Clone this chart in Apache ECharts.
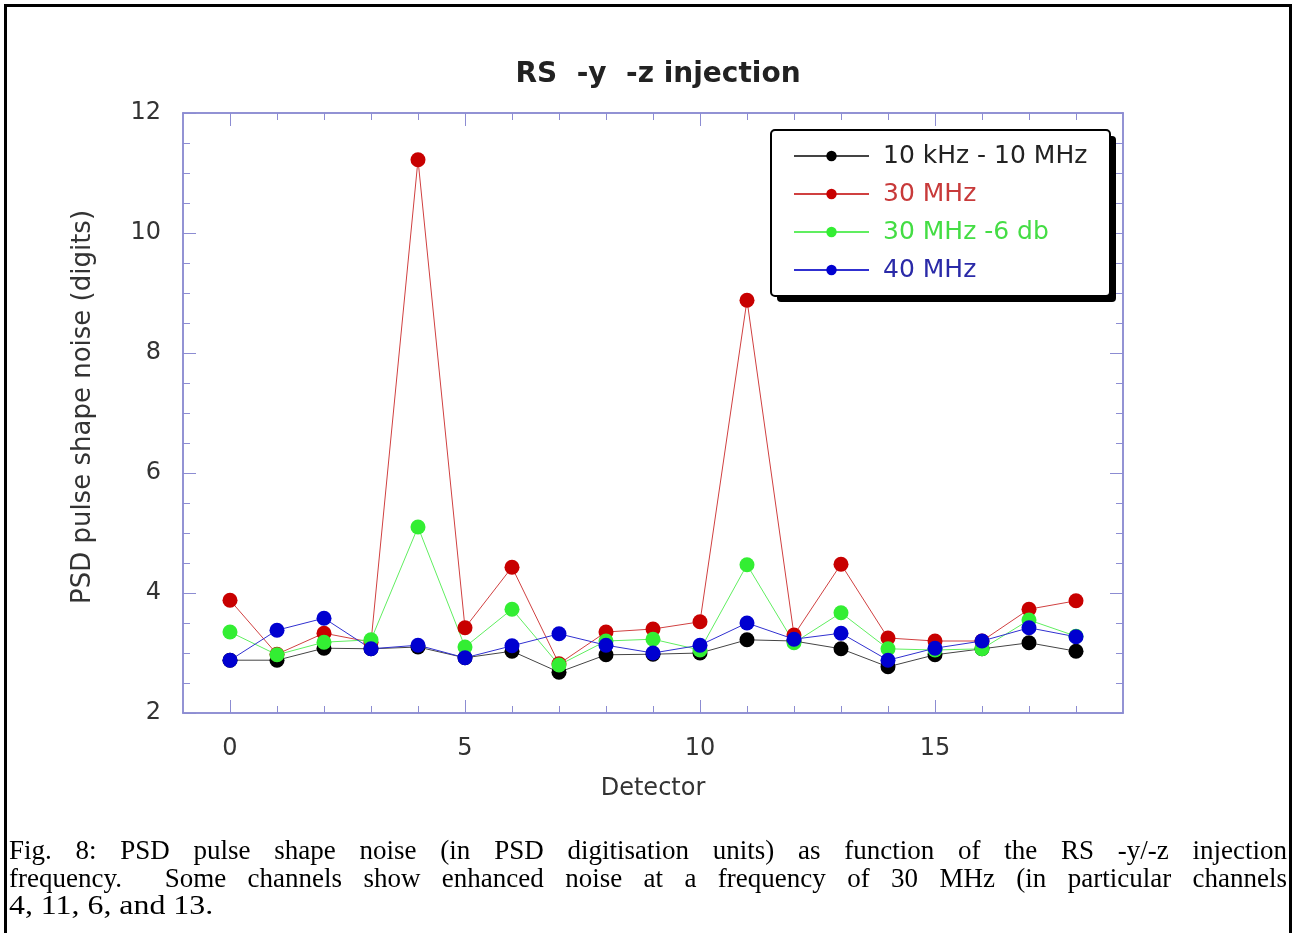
<!DOCTYPE html>
<html>
<head>
<meta charset="utf-8">
<script src="https://cdn.jsdelivr.net/npm/echarts@6/dist/echarts.min.js"></script>
<style>
  html, body { margin: 0; padding: 0; background: #ffffff; }
  #wrap { position: relative; width: 1295px; height: 933px; overflow: hidden; background: #ffffff; }
  #chart { position: absolute; left: 0; top: 0; width: 1295px; height: 933px; }
  #frame { position: absolute; left: 4px; top: 4px; width: 1282px; height: 1000px;
           border: 3px solid #000; border-bottom: none; pointer-events: none; }
  #caption { position: absolute; left: 9px; top: 837px; width: 1278px;
             font-family: "Liberation Serif", "DejaVu Serif", serif; font-size: 27px;
             line-height: 27.5px; color: #000; }
  #caption .j { text-align: justify; text-align-last: justify; white-space: nowrap; }
  #caption .last { display: inline-block; transform: scaleX(1.18); transform-origin: left center; white-space: nowrap; }
</style>
</head>
<body>
<div id="wrap">
  <div id="chart"></div>
  <div id="frame"></div>
  <div id="caption">
    <div class="j">Fig. 8: PSD pulse shape noise (in PSD digitisation units) as function of the RS -y/-z injection</div>
    <div class="j">frequency.&nbsp; Some channels show enhanced noise at a frequency of 30 MHz (in particular channels</div>
    <div><span class="last">4, 11, 6, and 13.</span></div>
  </div>
</div>
<script>
// ---- data ----
const detectors = [0, 1, 2, 3, 4, 5, 6, 7, 8, 9, 10, 11, 12, 13, 14, 15, 16, 17, 18];
const seriesNames = ['10 kHz - 10 MHz', '30 MHz', '30 MHz -6 db', '40 MHz'];
const noise10k10M = [2.88, 2.88, 3.08, 3.07, 3.10, 2.92, 3.03, 2.68, 2.97, 2.98, 3.00, 3.22, 3.20, 3.07, 2.77, 2.97, 3.07, 3.17, 3.03];
const noise30M    = [3.88, 2.98, 3.33, 3.18, 11.22, 3.42, 4.43, 2.82, 3.35, 3.40, 3.52, 8.88, 3.30, 4.48, 3.25, 3.20, 3.20, 3.73, 3.87];
const noise30M6db = [3.35, 2.97, 3.18, 3.22, 5.10, 3.10, 3.73, 2.80, 3.20, 3.23, 3.05, 4.47, 3.17, 3.67, 3.07, 3.05, 3.07, 3.55, 3.28];
const noise40M    = [2.88, 3.38, 3.58, 3.07, 3.13, 2.92, 3.12, 3.32, 3.13, 3.00, 3.13, 3.50, 3.23, 3.33, 2.88, 3.08, 3.20, 3.42, 3.27];
const xTickLabels = [0, 5, 10, 15];
const xMinorTicks = [0, 1, 2, 3, 4, 5, 6, 7, 8, 9, 10, 11, 12, 13, 14, 15, 16, 17, 18];
const yTickLabels = [2, 4, 6, 8, 10, 12];
const yMinorTicks = [2, 2.5, 3, 3.5, 4, 4.5, 5, 5.5, 6, 6.5, 7, 7.5, 8, 8.5, 9, 9.5, 10, 10.5, 11, 11.5, 12];

// ---- styling ----
const FONT = '"DejaVu Sans", "Liberation Sans", sans-serif';
const AXIS_COLOR = '#8c8cd2';
const markerColors = ['#000000', '#c80000', '#33ee33', '#0000d0'];
const lineColors = ['#444444', '#d04040', '#60ee60', '#3030d0'];
const textColors = ['#222222', '#c83a3a', '#44dd44', '#2a2aa8'];
const allValues = [noise10k10M, noise30M, noise30M6db, noise40M];

function xAx(pos, ticks, len, labels) {
  return {
    type: 'value', position: pos, min: -1, max: 19, interval: 1,
    axisLine: { show: true, onZero: false, lineStyle: { color: AXIS_COLOR, width: 1.5 } },
    axisTick: { show: true, inside: true, length: len, customValues: ticks, lineStyle: { color: AXIS_COLOR, width: 1 } },
    axisLabel: labels ? { show: true, customValues: xTickLabels, margin: 24, color: '#333', fontFamily: FONT, fontSize: 24 } : { show: false },
    splitLine: { show: false }
  };
}
function yAx(pos, ticks, len, labels) {
  return {
    type: 'value', position: pos, min: 2, max: 12, interval: 0.5,
    axisLine: { show: true, onZero: false, lineStyle: { color: AXIS_COLOR, width: 1.5 } },
    axisTick: { show: true, inside: true, length: len, customValues: ticks, lineStyle: { color: AXIS_COLOR, width: 1 } },
    axisLabel: labels ? { show: true, customValues: yTickLabels, margin: 22, color: '#333', fontFamily: FONT, fontSize: 24 } : { show: false },
    splitLine: { show: false }
  };
}

const xAxes = [
  Object.assign(xAx('bottom', xMinorTicks, 7, true), {
    name: 'Detector', nameLocation: 'middle', nameGap: 64,
    nameTextStyle: { color: '#333', fontFamily: FONT, fontSize: 24 }
  }),
  xAx('bottom', xTickLabels, 13, false),
  xAx('top', xMinorTicks, 7, false),
  xAx('top', xTickLabels, 13, false)
];
const yAxes = [
  Object.assign(yAx('left', yMinorTicks, 7, true), {
    name: 'PSD pulse shape noise (digits)', nameLocation: 'middle', nameGap: 87, nameRotate: 90,
    nameTextStyle: { color: '#333', fontFamily: FONT, fontSize: 26, padding: [0, 0, 0, 12] }
  }),
  yAx('left', yTickLabels, 13, false),
  yAx('right', yMinorTicks, 7, false),
  yAx('right', yTickLabels, 13, false)
];

const series = seriesNames.map((name, i) => ({
  name: name,
  type: 'line',
  xAxisIndex: 0, yAxisIndex: 0,
  data: detectors.map((d, k) => [d, allValues[i][k]]),
  symbol: 'circle', symbolSize: 15,
  showAllSymbol: true,
  itemStyle: { color: markerColors[i] },
  lineStyle: { color: lineColors[i], width: 1 },
  emphasis: { disabled: true },
  animation: false
}));

const chart = echarts.init(document.getElementById('chart'), null, { renderer: 'canvas' });
chart.setOption({
  backgroundColor: 'transparent',
  animation: false,
  title: {
    text: 'RS  -y  -z injection', left: 653, top: 56, textAlign: 'center',
    textStyle: { fontFamily: FONT, fontSize: 28, fontWeight: 'bold', color: '#222' }
  },
  grid: { left: 183, top: 113, right: 172, bottom: 220, containLabel: false },
  xAxis: xAxes,
  yAxis: yAxes,
  graphic: [
    { type: 'rect', z: 5, silent: true, shape: { x: 777, y: 136, width: 339, height: 166, r: 4 },
      style: { fill: '#000' } },
    { type: 'rect', z: 6, silent: true, shape: { x: 771, y: 130, width: 339, height: 166, r: 4 },
      style: { fill: '#fff', stroke: '#000', lineWidth: 2 } }
  ],
  legend: {
    z: 10,
    orient: 'vertical', left: 770, top: 131,
    itemWidth: 75, itemHeight: 13, itemGap: 12,
    padding: [12, 17, 14, 23],
    backgroundColor: 'transparent', borderWidth: 0,
    selectedMode: false,
    textStyle: { fontFamily: FONT, fontSize: 25, lineHeight: 26, padding: [0, 0, 0, 9] },
    data: seriesNames.map((n, i) => ({ name: n, textStyle: { color: textColors[i] } }))
  },
  series: series
});
</script>
</body>
</html>
